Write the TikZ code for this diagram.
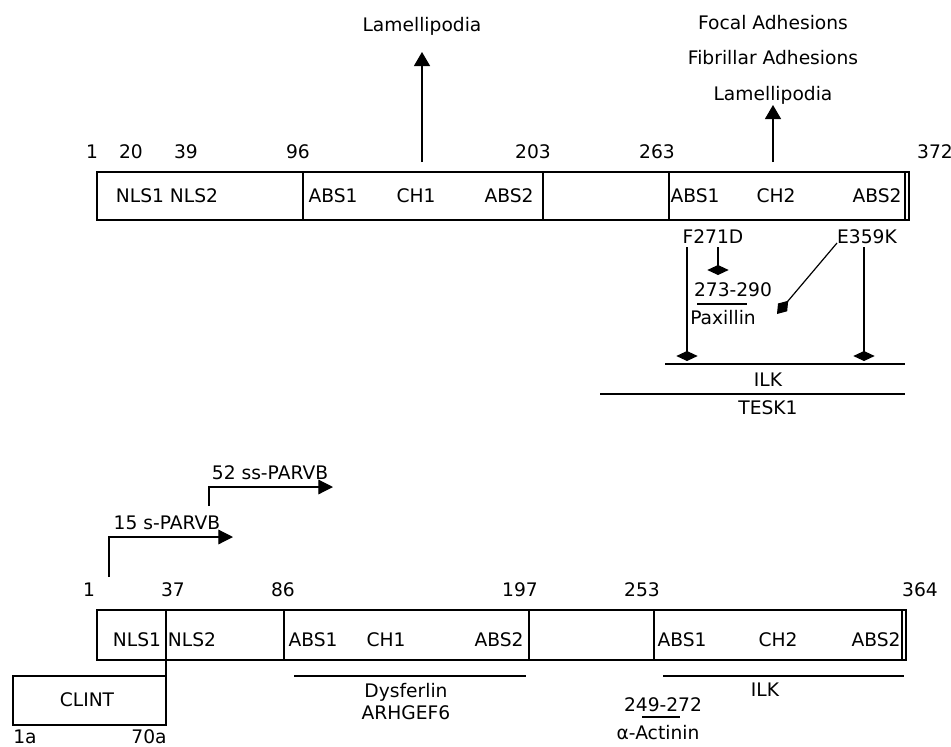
\documentclass[tikz,border=0pt]{standalone}
\usepackage{fontspec}
\setmainfont{DejaVu Sans}
\usetikzlibrary{arrows.meta}
\begin{document}
\begin{tikzpicture}[x=0.75pt,y=-0.75pt,
  every node/.style={font=\fontsize{14}{16}\selectfont, inner sep=0pt, text depth=0pt},
  ln/.style={line width=0.9pt},
  tri/.style={-{Triangle[length=10.5pt,width=12pt]}, line width=0.9pt},
  tris/.style={-{Triangle[length=11pt,width=11pt]}, line width=0.9pt},
  dia/.style={-{Diamond[length=7.5pt,width=16pt]}, line width=0.9pt},
  diad/.style={-{Diamond[length=13pt,width=9pt]}, line width=0.9pt}]
\useasboundingbox (0,0) rectangle (951,747);

% ---------- top protein ----------
\draw[ln] (97,172) rectangle (909,220);
\draw[ln] (303,172) -- (303,220);
\draw[ln] (543,172) -- (543,220);
\draw[ln] (669,172) -- (669,220);
\draw[ln] (905,172) -- (905,220);

\node (t1) at (92,152) {1};
\node (t20) at (131,152) {20};
\node (t39) at (186,152) {39};
\node (t96) at (298,152) {96};
\node (t203) at (533,152) {203};
\node (t263) at (657,152) {263};
\node (t372) at (935,152) {372};

\node (tnls) at (167,196) {NLS1 NLS2};
\node (tabs1a) at (333,196) {ABS1};
\node (tch1) at (416,196) {CH1};
\node (tabs2a) at (509,196) {ABS2};
\node (tabs1b) at (695,196) {ABS1};
\node (tch2) at (776,196) {CH2};
\node (tabs2b) at (877,196) {ABS2};

% arrows up
\node (lam1) at (422,24) {Lamellipodia};
\coordinate (a1s) at (422,162);
\coordinate (a1e) at (422,52);
\draw[tri] (a1s) -- (a1e);

\node (foc) at (773,22) {Focal Adhesions};
\node (fib) at (773,57) {Fibrillar Adhesions};
\node (lam2) at (773,93) {Lamellipodia};
\coordinate (a2s) at (773,162);
\coordinate (a2e) at (773,105);
\draw[tri] (a2s) -- (a2e);

% mutations
\node (f271) at (713,237) {F271D};
\node (e359) at (867,237) {E359K};
\coordinate (fA) at (687,247);
\coordinate (fAe) at (687,361);
\coordinate (fB) at (718,247);
\coordinate (fBe) at (718,275);
\coordinate (eA) at (864,247);
\coordinate (eAe) at (864,361);
\coordinate (eB) at (837,243);
\coordinate (eBe) at (777,314);
\draw[dia] (fA) -- (fAe);
\draw[dia] (fB) -- (fBe);
\draw[dia] (eA) -- (eAe);
\draw[diad] (eB) -- (eBe);

\node (pep1) at (733,290) {273-290};
\coordinate (pl1) at (697,304);
\coordinate (pl2) at (747,304);
\draw[ln] (pl1) -- (pl2);
\node (pax) at (723,317) {Paxillin};

\coordinate (ilk1a) at (665,364);
\coordinate (ilk1b) at (905,364);
\draw[ln] (ilk1a) -- (ilk1b);
\node (ilk1) at (768,380) {ILK};
\coordinate (tesa) at (600,394);
\coordinate (tesb) at (905,394);
\draw[ln] (tesa) -- (tesb);
\node (tesk) at (768,408) {TESK1};

% ---------- bottom protein ----------
\node (ss) at (270,473) {52 ss-PARVB};
\coordinate (ssa) at (209,506);
\coordinate (ssb) at (209,487);
\coordinate (ssc) at (333,487);
\draw[tris] (ssa) -- (ssb) -- (ssc);
\node (s) at (167,523) {15 s-PARVB};
\coordinate (sa) at (109,577);
\coordinate (sb) at (109,537);
\coordinate (sc) at (233,537);
\draw[tris] (sa) -- (sb) -- (sc);

\node (b1) at (89,590) {1};
\node (b37) at (173,590) {37};
\node (b86) at (283,590) {86};
\node (b197) at (520,590) {197};
\node (b253) at (642,590) {253};
\node (b364) at (920,590) {364};

\draw[ln] (97,610) rectangle (906,660);
\draw[ln] (166,610) -- (166,725);
\draw[ln] (284,610) -- (284,660);
\draw[ln] (529,610) -- (529,660);
\draw[ln] (654,610) -- (654,660);
\draw[ln] (902,610) -- (902,660);

\node (bnls1) at (137,640) {NLS1};
\node (bnls2) at (192,640) {NLS2};
\node (babs1a) at (313,640) {ABS1};
\node (bch1) at (386,640) {CH1};
\node (babs2a) at (499,640) {ABS2};
\node (babs1b) at (682,640) {ABS1};
\node (bch2) at (778,640) {CH2};
\node (babs2b) at (876,640) {ABS2};

\draw[ln] (13,676) rectangle (166,725);
\node (clint) at (87,700) {CLINT};
\node (c1a) at (25,737) {1a};
\node (c70a) at (149,737) {70a};

\coordinate (dya) at (294,676);
\coordinate (dyb) at (526,676);
\draw[ln] (dya) -- (dyb);
\node (dys) at (406,690) {Dysferlin};
\node (arh) at (406,713) {ARHGEF6};

\coordinate (ilk2a) at (663,676);
\coordinate (ilk2b) at (904,676);
\draw[ln] (ilk2a) -- (ilk2b);
\node (ilk2) at (765,690) {ILK};

\node (pep2) at (663,705) {249-272};
\coordinate (al1) at (642,717);
\coordinate (al2) at (680,717);
\draw[ln] (al1) -- (al2);
\node (act) at (658,732) {α-Actinin};
\end{tikzpicture}
\end{document}
